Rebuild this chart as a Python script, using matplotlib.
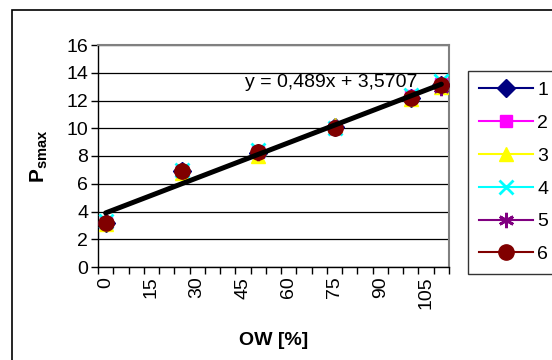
import numpy as np
import matplotlib
matplotlib.use('Agg')
import matplotlib.pyplot as plt
from matplotlib.lines import Line2D
from matplotlib.patches import Rectangle
from matplotlib.ticker import FixedLocator

plt.rcParams['font.family'] = ['Liberation Sans', 'DejaVu Sans']
plt.rcParams['mathtext.fontset'] = 'custom'
plt.rcParams['mathtext.rm'] = 'Liberation Sans'
plt.rcParams['mathtext.bf'] = 'Liberation Sans:bold'

ow = [0, 25, 50, 75, 100, 110]
s1 = [3.2, 6.9, 8.2, 10.1, 12.2, 13.1]
s2 = [3.2, 6.9, 8.3, 10.0, 12.3, 13.2]
s3 = [3.1, 6.8, 8.0, 10.2, 12.1, 13.0]
s4 = [3.3, 7.0, 8.4, 10.0, 12.4, 13.4]
s5 = [3.2, 6.9, 8.2, 10.1, 12.2, 12.9]
s6 = [3.2, 6.9, 8.3, 10.0, 12.2, 13.1]
labels = ['1', '2', '3', '4', '5', '6']
xticks = [0, 15, 30, 45, 60, 75, 90, 105]
yticks = [0, 2, 4, 6, 8, 10, 12, 14, 16]
equation = 'y = 0,489x + 3,5707'

series = [s1, s2, s3, s4, s5, s6]
colors = ['#000080', '#ff00ff', '#ffff00', '#00ffff', '#800080', '#800000']
markers = ['D', 's', '^', 'x', (6, 2, 0), 'o']
msizes = [9, 9, 10, 10, 11, 11]

fig = plt.figure(figsize=(5.52, 3.6), dpi=100)
ax = fig.add_axes([98 / 552, 1 - 267 / 360, 351 / 552, 222 / 360])

handles = []
for vals, c, m, ms, lab in zip(series, colors, markers, msizes, labels):
    mew = 2 if m in ('x', (6, 2, 0)) else 1
    ax.plot(ow, vals, ls='none', marker=m, ms=ms, color=c, mec=c, mew=mew, zorder=3)
    handles.append(Line2D([], [], color=c, lw=1.5, marker=m, ms=ms, mec=c, mew=mew, label=lab))

# linear trendline over all series
allx = np.tile(ow, len(series))
ally = np.concatenate(series)
k, b = np.polyfit(allx, ally, 1)
tx = np.array([ow[0], ow[-1]])
ax.plot(tx, k * tx + b, color='black', lw=3.6, solid_capstyle='round', zorder=4)
ax.text(45.5, 13.3, equation, fontsize=14, va='center', ha='left', zorder=5)

ax.set_xlim(-2.5, 112.5)
ax.set_ylim(0, 16)
ax.xaxis.set_major_locator(FixedLocator(xticks))
ax.xaxis.set_minor_locator(FixedLocator(np.arange(-2.5, 113, 5)))
ax.set_xticklabels([str(t) for t in xticks], rotation=90)
ax.yaxis.set_major_locator(FixedLocator(yticks))
ax.tick_params(axis='x', which='major', length=0, labelsize=14, pad=7)
ax.tick_params(axis='x', which='minor', length=5, width=1, direction='out')
ax.tick_params(axis='y', which='major', length=5, width=1, labelsize=14, pad=2)
ax.grid(axis='y', color='black', lw=0.9)
ax.set_axisbelow(True)
for side in ('top', 'right'):
    ax.spines[side].set_color('#808080')
    ax.spines[side].set_linewidth(1.5)
for side in ('left', 'bottom'):
    ax.spines[side].set_color('black')
    ax.spines[side].set_linewidth(1)

ax.set_xlabel('OW [%]', fontsize=14, fontweight='bold', labelpad=16)
ax.set_ylabel(r'$\mathbf{P_{smax}}$', fontsize=15, labelpad=12)

leg = fig.legend(handles=handles, loc='upper left', bbox_to_anchor=(468 / 552, 1 - 71 / 360),
                 borderaxespad=0, fontsize=14, handlelength=2.8, handletextpad=0.2,
                 labelspacing=0.78, borderpad=0.55, fancybox=False, frameon=True)
leg.get_frame().set_edgecolor('black')
leg.get_frame().set_linewidth(1)

fig.patches.append(Rectangle((12 / 552, -0.1), 2, 1.1 - 10 / 360, transform=fig.transFigure,
                             fill=False, edgecolor='black', lw=1.2))

fig.savefig('out.png', dpi=100)
